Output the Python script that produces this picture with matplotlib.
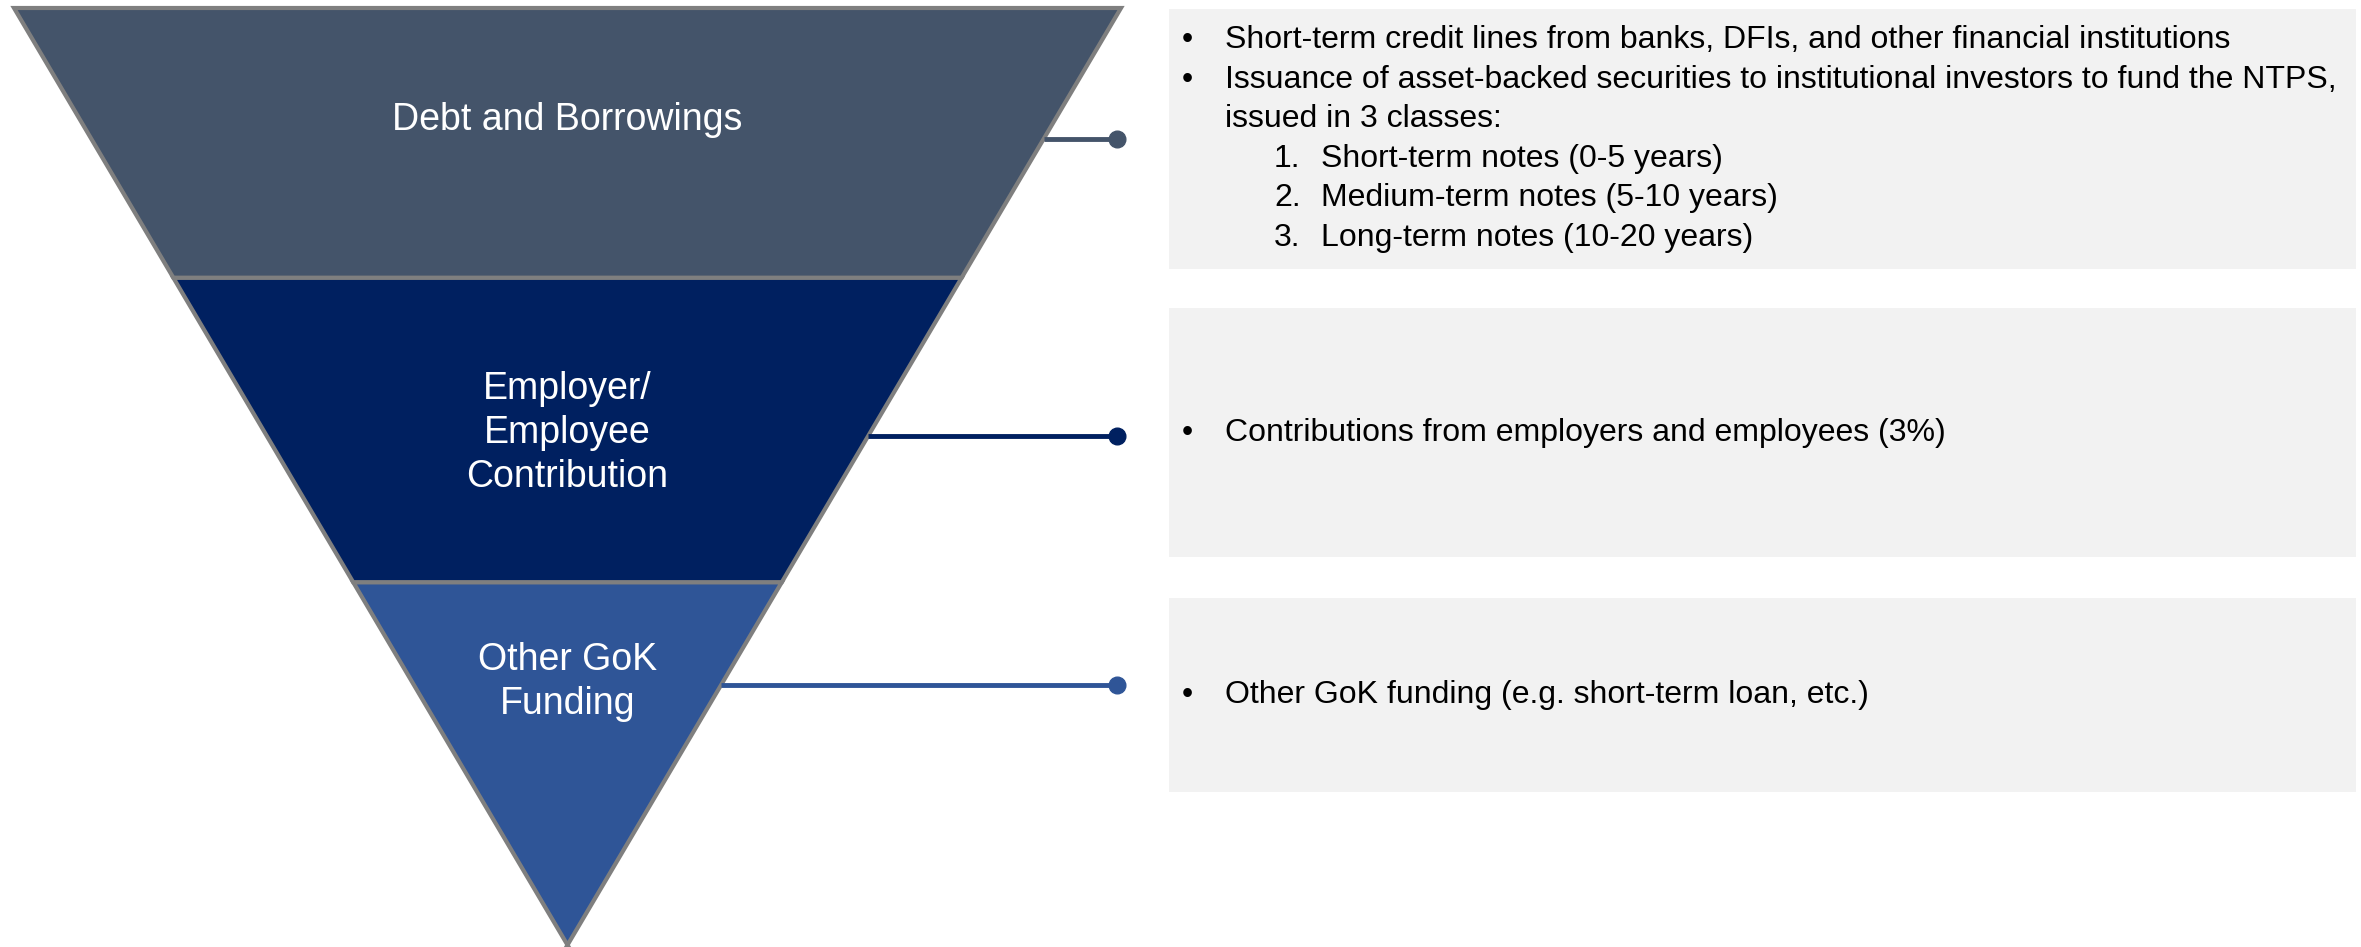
import matplotlib.pyplot as plt
from matplotlib.patches import Polygon, Rectangle

plt.rcParams['font.family'] = ['Liberation Sans', 'DejaVu Sans']

# funnel data (top to bottom)
stages = ["Debt and Borrowings", "Employer/\nEmployee\nContribution", "Other GoK\nFunding"]
band_share = [0.288, 0.325, 0.387]   # share of funnel height per stage
band_colors = ["#44546A", "#002060", "#2F5597"]

# text shown in the grey boxes: (level, marker, text)
details = [
    [(0, "•", "Short-term credit lines from banks, DFIs, and other financial institutions"),
     (0, "•", "Issuance of asset-backed securities to institutional investors to fund the NTPS,"),
     (0, "", "issued in 3 classes:"),
     (1, "1.", "Short-term notes (0-5 years)"),
     (1, "2.", "Medium-term notes (5-10 years)"),
     (1, "3.", "Long-term notes (10-20 years)")],
    [(0, "•", "Contributions from employers and employees (3%)")],
    [(0, "•", "Other GoK funding (e.g. short-term loan, etc.)")],
]

# layout in pixels
W, H = 2361, 947
top_y, apex_y = 8, 945
left_x, right_x = 14, 1121
cx = (left_x + right_x) / 2
label_y = [120, 433, 682]
link_y = [139, 436, 685]
dot_x = 1117
boxes = [(9, 269), (308, 557), (598, 792)]
box_x0, box_x1 = 1169, 2356
line_gap = 39.5
marker_x = [1182, 1274]
text_x = [1225, 1321]


def edges(y):
    frac = (y - top_y) / (apex_y - top_y)
    half = (right_x - left_x) / 2 * (1 - frac)
    return cx - half, cx + half


fig = plt.figure(figsize=(W / 100, H / 100), dpi=100)
ax = fig.add_axes([0, 0, 1, 1])
ax.set_xlim(0, W)
ax.set_ylim(H, 0)
ax.axis('off')

y0 = top_y
for i, share in enumerate(band_share):
    y1 = y0 + share * (apex_y - top_y)
    a0, b0 = edges(y0)
    a1, b1 = edges(y1)
    poly = Polygon([(a0, y0), (b0, y0), (b1, y1), (a1, y1)], closed=True,
                   facecolor=band_colors[i], edgecolor="#7F7F7F", lw=3, joinstyle='miter')
    ax.add_patch(poly)
    ax.text(cx, label_y[i], stages[i], color="white", fontsize=27,
            ha='center', va='center', linespacing=1.27)

    # connector
    xr = edges(link_y[i])[1]
    ax.plot([xr, dot_x], [link_y[i], link_y[i]], color=band_colors[i], lw=3.5, solid_capstyle='butt')
    ax.plot(dot_x, link_y[i], 'o', ms=12, color=band_colors[i])

    # grey box with description
    bt, bb = boxes[i]
    ax.add_patch(Rectangle((box_x0, bt), box_x1 - box_x0, bb - bt, facecolor="#F2F2F2", edgecolor="none"))
    lines = details[i]
    start = (bt + bb) / 2 - (len(lines) - 1) / 2 * line_gap
    for k, (lvl, mk, txt) in enumerate(lines):
        yy = start + k * line_gap
        if mk:
            ax.text(marker_x[lvl], yy, mk, fontsize=23, ha='left', va='center', color="black")
        ax.text(text_x[lvl], yy, txt, fontsize=23, ha='left', va='center', color="black")
    y0 = y1

fig.savefig("out.png", dpi=100)
